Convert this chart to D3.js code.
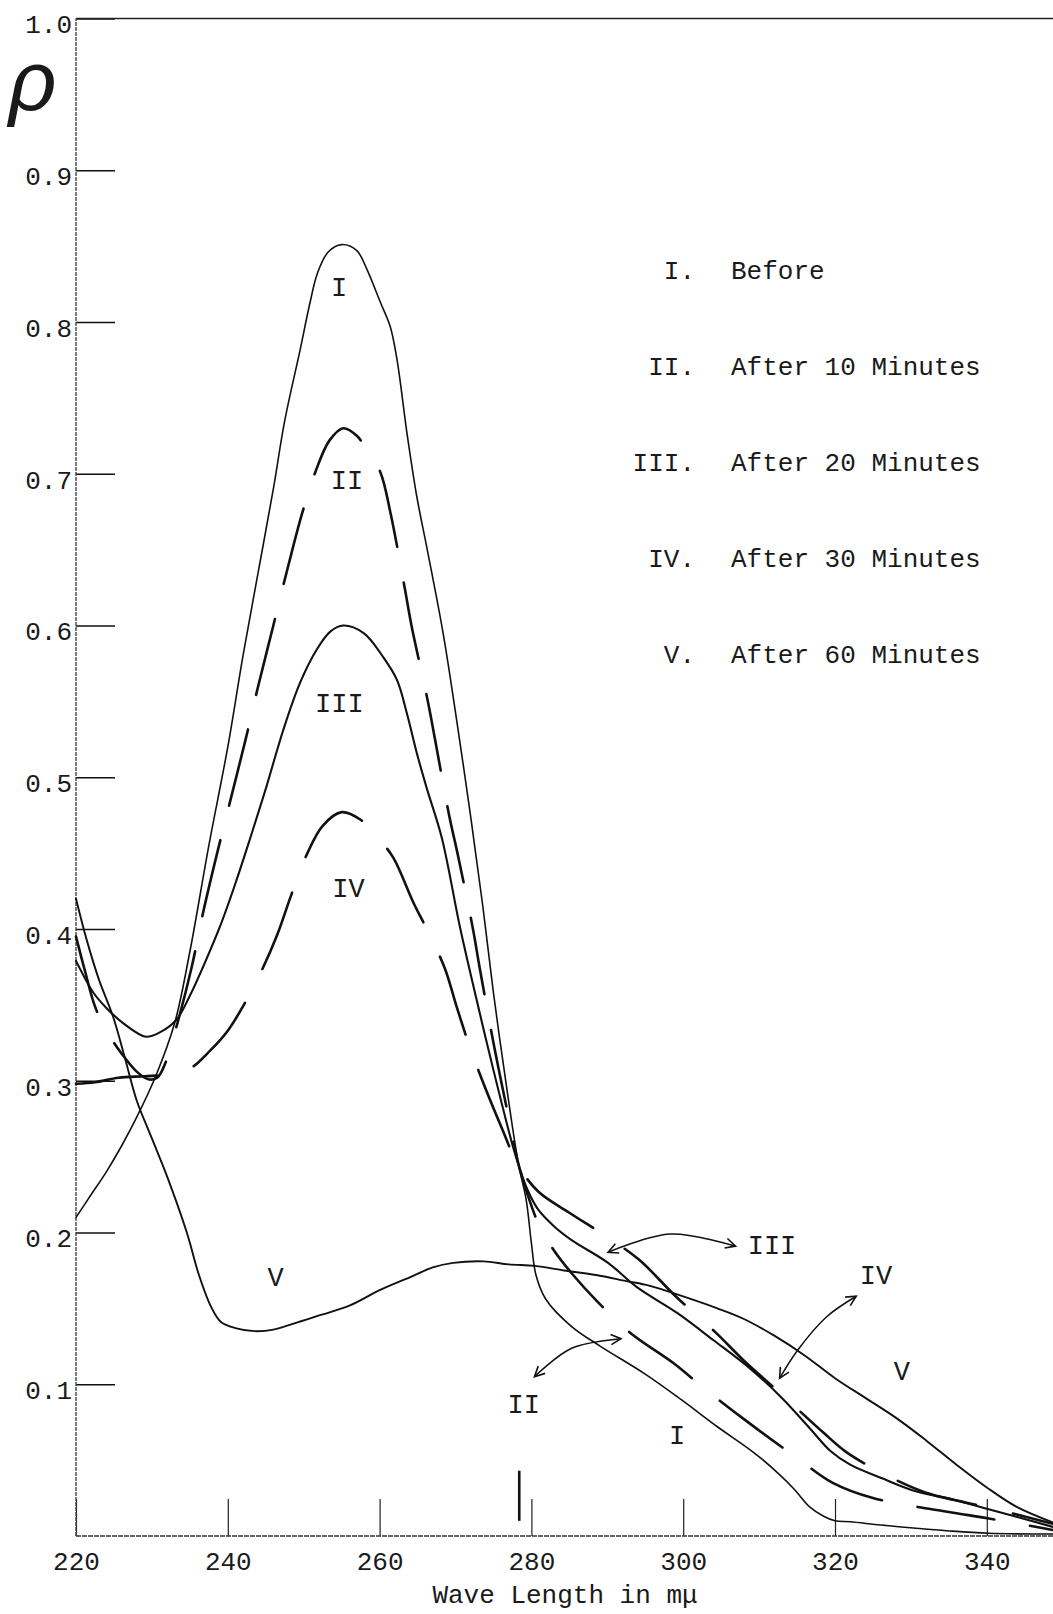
<!DOCTYPE html>
<html>
<head>
<meta charset="utf-8">
<script src="https://cdn.jsdelivr.net/npm/d3@7"></script>
<style>
  body { margin: 0; background: #fff; }
  svg { display: block; }
  text { font-family: "Liberation Mono", "DejaVu Sans Mono", monospace; fill: #1a1a1a; }
</style>
</head>
<body>
<div class="chart"></div>
<script>
// [wave length in m\u03bc, rho]
const curveI = [[220,0.210],[222,0.225],[224,0.240],[226,0.257],[228,0.276],[230.5,0.303],[233,0.338],[235,0.385],[237.5,0.455],[240,0.52],[242,0.58],[244,0.635],[246,0.69],[247.5,0.735],[249.5,0.781],[250.8,0.812],[251.8,0.832],[253.2,0.846],[255,0.851],[257,0.847],[258.3,0.835],[260.1,0.813],[261.4,0.797],[262.3,0.775],[263.6,0.727],[264.9,0.685],[266.2,0.652],[268.4,0.594],[270.2,0.536],[272,0.474],[273.6,0.415],[275,0.358],[276.7,0.297],[278.3,0.245],[279.3,0.222],[280,0.193],[280.6,0.172],[281.9,0.156],[285.3,0.138],[289.1,0.125],[294.9,0.107],[299.7,0.090],[304.5,0.072],[309.3,0.055],[312.8,0.040],[314.6,0.031],[316.7,0.019],[318.5,0.013],[320,0.010],[322,0.0094],[326,0.0072],[330.3,0.0053],[334.7,0.0035],[340.2,0.0018],[348.7,0.0013]];

const curveII = [[220,0.395],[221.2,0.372],[222.5,0.349],[224,0.333],[226,0.318],[228,0.306],[229.5,0.301],[230.7,0.302],[231.8,0.312],[233.2,0.335],[235.2,0.374],[236.8,0.412],[238.5,0.448],[240,0.478],[242.3,0.524],[244,0.56],[246,0.60],[248,0.64],[249.8,0.674],[251.6,0.702],[253.4,0.722],[255.2,0.730],[257,0.725],[258.5,0.714],[260.1,0.701],[261.4,0.675],[263.3,0.625],[264.2,0.60],[266.4,0.549],[267.3,0.525],[269.2,0.474],[270.3,0.449],[272.3,0.40],[273.2,0.374],[275,0.325],[276.7,0.283],[278.3,0.245],[279.5,0.225],[281,0.205],[283,0.188],[285.5,0.172],[288.6,0.155],[293,0.134],[298.7,0.114],[302.6,0.098],[308,0.077],[315.1,0.051],[319.7,0.035],[325,0.025],[334.8,0.016],[340.1,0.0117],[348.7,0.004]];

const curveIII = [[220,0.379],[222.3,0.358],[224,0.348],[226.2,0.338],[229.2,0.329],[231.1,0.332],[233.2,0.340],[235,0.356],[237,0.378],[239,0.402],[241,0.43],[242.9,0.459],[245.1,0.494],[247.3,0.531],[249.5,0.562],[251.7,0.584],[253.5,0.596],[255.2,0.600],[257.9,0.595],[260.5,0.579],[262.3,0.564],[263.6,0.542],[264.9,0.516],[266.2,0.493],[268.2,0.46],[270.6,0.401],[272.8,0.353],[275,0.307],[277.6,0.256],[278.4,0.243],[279.5,0.228],[280.9,0.215],[283,0.204],[285.3,0.195],[290.1,0.18],[293.9,0.164],[299.2,0.147],[304,0.129],[308.9,0.110],[313,0.091],[316.5,0.072],[319.4,0.056],[322,0.047],[326.2,0.038],[330.3,0.030],[335.8,0.0237],[340,0.018],[348.7,0.006]];

const curveIV = [[220,0.298],[222.5,0.299],[225.6,0.302],[229,0.303],[232,0.304],[235,0.308],[237.7,0.32],[240,0.333],[242,0.349],[244.5,0.373],[246.5,0.396],[248.4,0.423],[250.4,0.449],[252.5,0.468],[255,0.477],[257.5,0.472],[259.8,0.46],[261.8,0.447],[264.4,0.418],[266.4,0.398],[268.6,0.374],[270.2,0.348],[271.9,0.322],[273.7,0.298],[276,0.27],[278.3,0.244],[280.9,0.227],[285,0.213],[290,0.197],[294.2,0.182],[299,0.158],[304.3,0.134],[307.9,0.116],[312.8,0.094],[318.5,0.068],[321.4,0.0556],[326,0.042],[330.5,0.0314],[333,0.027],[340.9,0.018],[348.7,0.008]];

const curveV = [[220,0.42],[221.4,0.393],[223,0.367],[224.9,0.342],[226.5,0.314],[228,0.287],[230,0.262],[232,0.237],[234.6,0.20],[236.2,0.172],[237.8,0.151],[239.1,0.141],[241,0.137],[243.5,0.135],[246,0.136],[249.3,0.141],[252.5,0.146],[256.1,0.152],[260,0.162],[264.2,0.171],[267,0.177],[269.7,0.180],[273.7,0.181],[277,0.179],[280.5,0.178],[284.3,0.175],[288.5,0.172],[292.5,0.168],[295.5,0.165],[298.7,0.160],[304.5,0.150],[308,0.143],[312,0.132],[316,0.119],[320,0.104],[324,0.091],[328,0.078],[332,0.063],[336,0.047],[340,0.032],[344,0.019],[348.7,0.009]];

const yTicks = [0.1, 0.2, 0.3, 0.4, 0.5, 0.6, 0.7, 0.8, 0.9, 1.0];
const xTicks = [220, 240, 260, 280, 300, 320, 340];

const legendKeys = ["I.", "II.", "III.", "IV.", "V."];
const legendLabels = ["Before", "After 10 Minutes", "After 20 Minutes", "After 30 Minutes", "After 60 Minutes"];

// hand lettering on the plot: [text, wave length, rho]
const curveLabels = [["I",254.65,0.823],["II",255.7,0.696],["III",254.7,0.549],["IV",255.9,0.427],["V",246.3,0.171],
  ["III",311.7,0.192],["IV",325.4,0.172],["II",279.0,0.087],["I",299.2,0.067],["V",328.8,0.109]];

// double headed arrows tying labels to the tails
const arrowIII = [[290.1,0.187],[298.3,0.199],[306.9,0.191]];
const arrowIV = [[312.7,0.104],[315.1,0.1226],[318.9,0.1445],[322.8,0.158]];
const arrowII = [[280.4,0.105],[285.3,0.1237],[291.8,0.130]];

const isosbestic = 278.4;

const width = 1053;
const height = 1614;

const svg = d3.select('.chart').append('svg')
    .attr('width', width)
    .attr('height', height);

//scales
const x = d3.scaleLinear()
    .domain([220, 350])
    .range([76, 76 + 130 * 7.59]);

const y = d3.scaleLinear()
    .domain([0, 1])
    .range([1536, 18.5]);

//axes
const yAxis = d3.axisLeft(y)
    .tickValues(yTicks)
    .tickFormat(d3.format('.1f'))
    .tickSizeInner(-39)
    .tickSizeOuter(0)
    .tickPadding(4);

const gy = svg.append('g')
    .attr('transform', `translate(${x(220)},0)`)
    .call(yAxis);
gy.select('.domain').remove();
gy.selectAll('.tick line').attr('stroke', '#111').attr('stroke-width', 1.5);
gy.selectAll('.tick text').attr('font-size', 26).attr('dy', '0.55em').attr('fill', '#1a1a1a');

const xAxis = d3.axisBottom(x)
    .tickValues(xTicks)
    .tickFormat(d3.format('d'))
    .tickSizeInner(-37)
    .tickSizeOuter(0)
    .tickPadding(16);

const gx = svg.append('g')
    .attr('transform', `translate(0,${y(0)})`)
    .call(xAxis);
gx.select('.domain').remove();
gx.selectAll('.tick line').attr('stroke', '#222').attr('stroke-width', 1.2);
gx.selectAll('.tick text').attr('font-size', 26).attr('fill', '#1a1a1a');

//frame lines
svg.append('line')
    .attr('x1', x(220)).attr('x2', width)
    .attr('y1', y(1)).attr('y2', y(1))
    .attr('stroke', '#222').attr('stroke-width', 1.5);
svg.append('line')
    .attr('x1', x(220)).attr('x2', width)
    .attr('y1', y(0)).attr('y2', y(0))
    .attr('stroke', '#333').attr('stroke-width', 1.6)
    .attr('stroke-dasharray', '5,1');
svg.append('line')
    .attr('x1', x(220)).attr('x2', x(220))
    .attr('y1', y(0)).attr('y2', y(1))
    .attr('stroke', '#444').attr('stroke-width', 1.4)
    .attr('stroke-dasharray', '4,1');

//mark at the crossing point
svg.append('line')
    .attr('x1', x(isosbestic)).attr('x2', x(isosbestic))
    .attr('y1', y(0.043)).attr('y2', y(0.01))
    .attr('stroke', '#111').attr('stroke-width', 2.6);

//axis titles
svg.append('text')
    .attr('x', 8)
    .attr('y', 110)
    .attr('font-family', '"Noto Sans", "Liberation Serif", serif')
    .attr('font-style', 'italic')
    .attr('font-weight', 200)
    .attr('font-size', 84)
    .text('\u03c1');

svg.append('text')
    .attr('x', 565)
    .attr('y', 1603)
    .attr('text-anchor', 'middle')
    .attr('font-size', 26)
    .text('Wave Length in m\u03bc');

//curves
const line = d3.line()
    .x(d => x(d[0]))
    .y(d => y(d[1]))
    .curve(d3.curveCatmullRom.alpha(0.5));

const series = [
    {pts: curveI, w: 1.6, dash: null},
    {pts: curveII, w: 2.6, dash: '78,36'},
    {pts: curveIII, w: 2.1, dash: null},
    {pts: curveIV, w: 2.6, dash: '82,38'},
    {pts: curveV, w: 1.9, dash: null}
];

svg.selectAll('.curve')
    .data(series)
    .enter()
    .append('path')
    .attr('class', 'curve')
    .attr('d', d => line(d.pts))
    .attr('fill', 'none')
    .attr('stroke', '#111')
    .attr('stroke-width', d => d.w)
    .attr('stroke-linecap', 'round')
    .attr('stroke-dasharray', d => d.dash);

//arrows
svg.append('defs').append('marker')
    .attr('id', 'head')
    .attr('viewBox', '-12 -7 14 14')
    .attr('refX', 0).attr('refY', 0)
    .attr('markerWidth', 14).attr('markerHeight', 14)
    .attr('markerUnits', 'userSpaceOnUse')
    .attr('orient', 'auto-start-reverse')
    .append('path')
    .attr('d', 'M-10,-5L0,0L-10,5')
    .attr('fill', 'none')
    .attr('stroke', '#111')
    .attr('stroke-width', 1.6);

svg.selectAll('.arrow')
    .data([arrowIII, arrowIV, arrowII])
    .enter()
    .append('path')
    .attr('class', 'arrow')
    .attr('d', d => line(d))
    .attr('fill', 'none')
    .attr('stroke', '#111')
    .attr('stroke-width', 1.5)
    .attr('marker-start', 'url(#head)')
    .attr('marker-end', 'url(#head)');

//curve labels
svg.selectAll('.clabel')
    .data(curveLabels)
    .enter()
    .append('text')
    .attr('class', 'clabel')
    .attr('x', d => x(d[1]))
    .attr('y', d => y(d[2]))
    .attr('dy', '0.34em')
    .attr('text-anchor', 'middle')
    .attr('font-size', 27)
    .text(d => d[0]);

//legend
const legend = svg.append('g');

legend.selectAll('.legend-key')
    .data(legendKeys)
    .enter()
    .append('text')
    .attr('x', 695)
    .attr('y', (d, i) => 279 + i * 96)
    .attr('text-anchor', 'end')
    .attr('font-size', 26)
    .text(d => d);

legend.selectAll('.legend-text')
    .data(legendLabels)
    .enter()
    .append('text')
    .attr('x', 731)
    .attr('y', (d, i) => 279 + i * 96)
    .attr('font-size', 26)
    .text(d => d);
</script>
</body>
</html>
